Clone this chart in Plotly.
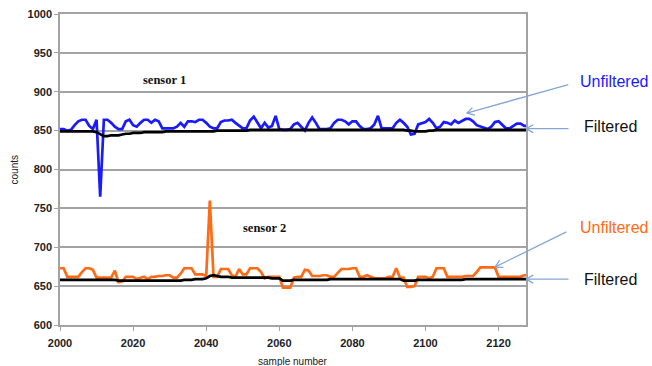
import math
import plotly.graph_objects as go

# sample numbers 2000 .. 2128
samples = list(range(2000, 2129))

sensor1_raw = [
    852, 852, 850, 851, 857, 862, 864, 864, 856, 852,   # 2000
    864, 765, 864, 864, 860, 855, 852, 852, 862, 864,   # 2010
    857, 855, 860, 864, 864, 860, 864, 862, 853, 853,   # 2020
    853, 853, 855, 860, 855, 862, 862, 861, 864, 864,   # 2030
    860, 855, 853, 853, 861, 863, 863, 864, 860, 857,   # 2040
    853, 853, 863, 868, 860, 853, 860, 854, 856, 869,   # 2050
    852, 851, 851, 852, 858, 860, 855, 850, 860, 867,   # 2060
    860, 852, 852, 852, 853, 860, 864, 864, 862, 858,   # 2070
    862, 862, 856, 852, 852, 853, 858, 869, 853, 853,   # 2080
    853, 853, 860, 864, 860, 855, 845, 846, 858, 860,   # 2090
    861, 865, 860, 853, 855, 861, 860, 858, 863, 860,   # 2100
    862, 865, 865, 862, 857, 855, 853, 852, 855, 861,   # 2110
    862, 858, 853, 853, 856, 859, 859, 856, 856,        # 2120
]

sensor1_filtered = [
    849, 849, 849, 849, 849, 849, 849, 849, 849, 849,
    848, 846, 843, 843, 844, 844, 844, 845, 846, 846,
    847, 847, 847, 848, 848, 848, 848, 848, 848, 849,
    849, 849, 849, 849, 849, 849, 849, 849, 849, 849,
    849, 849, 849, 850, 850, 850, 850, 850, 850, 850,
    850, 850, 851, 851, 851, 851, 851, 851, 851, 851,
    851, 851, 851, 851, 851, 851, 851, 851, 851, 851,
    851, 851, 851, 851, 851, 851, 851, 851, 851, 851,
    851, 851, 851, 851, 851, 851, 851, 851, 851, 851,
    851, 851, 851, 851, 851, 850, 850, 849, 849, 849,
    849, 850, 850, 851, 851, 851, 851, 851, 851, 851,
    851, 851, 851, 851, 851, 851, 851, 851, 851, 851,
    851, 851, 851, 851, 851, 851, 851, 851, 851,
]

sensor2_raw = [
    673, 673, 662, 662, 662, 662, 668, 673, 673, 671,
    661, 661, 661, 661, 661, 670, 655, 656, 662, 662,
    662, 659, 661, 662, 659, 662, 662, 663, 663, 664,
    664, 661, 661, 666, 673, 673, 673, 665, 665, 665,
    663, 760, 662, 662, 672, 672, 672, 664, 662, 672,
    665, 665, 673, 673, 673, 668, 660, 662, 662, 662,
    662, 648, 648, 648, 661, 662, 662, 671, 670, 663,
    663, 663, 664, 664, 662, 662, 667, 672, 672, 672,
    673, 673, 662, 662, 664, 662, 660, 660, 660, 660,
    662, 662, 673, 661, 661, 649, 649, 650, 662, 662,
    662, 660, 662, 673, 673, 673, 662, 662, 662, 662,
    662, 663, 663, 663, 668, 674, 674, 674, 674, 674,
    662, 662, 662, 662, 662, 662, 662, 664, 664,
]

sensor2_filtered = [
    658, 658, 658, 658, 658, 658, 658, 658, 658, 658,
    658, 658, 658, 658, 658, 658, 657, 657, 657, 657,
    657, 657, 657, 657, 657, 657, 657, 657, 657, 657,
    657, 657, 657, 657, 658, 658, 658, 659, 659, 659,
    660, 663, 664, 663, 662, 662, 662, 661, 661, 661,
    661, 661, 661, 661, 661, 661, 661, 661, 660, 660,
    660, 657, 657, 657, 658, 658, 658, 658, 658, 658,
    658, 658, 658, 658, 659, 659, 659, 659, 659, 659,
    659, 659, 659, 659, 659, 659, 659, 659, 659, 659,
    659, 659, 659, 659, 657, 657, 657, 657, 658, 658,
    658, 658, 658, 658, 658, 658, 658, 658, 658, 658,
    658, 659, 659, 659, 659, 659, 659, 659, 659, 659,
    659, 659, 659, 659, 659, 659, 659, 659, 659,
]

x_ticks = [2000, 2020, 2040, 2060, 2080, 2100, 2120]
y_ticks = [600, 650, 700, 750, 800, 850, 900, 950, 1000]

BLUE = "#1a1aff"
ORANGE = "#ff6a14"
ARROW = "#86a6d4"
GRID = "#a3a3a3"

fig = go.Figure()
for ys, col in [(sensor1_raw, BLUE), (sensor2_raw, ORANGE),
                (sensor1_filtered, "black"), (sensor2_filtered, "black")]:
    fig.add_trace(go.Scatter(x=samples, y=ys, mode="lines",
                             line=dict(color=col, width=2.7),
                             showlegend=False, hoverinfo="skip"))

annotations = []

# axis titles
annotations.append(dict(x=0.5, y=-0.1158, xref="paper", yref="paper",
                        text="sample number", showarrow=False,
                        xanchor="center", yanchor="middle",
                        font=dict(family="Liberation Sans", size=10, color="#222")))
annotations.append(dict(x=-0.0966, y=0.5, xref="paper", yref="paper",
                        text="counts", showarrow=False, textangle=-90,
                        xanchor="center", yanchor="middle",
                        font=dict(family="Liberation Sans", size=10, color="#222")))

# series names inside the plot
for txt, px, py in [("sensor 1", 0.2253, 0.7878), ("sensor 2", 0.4399, 0.3119)]:
    annotations.append(dict(x=px, y=py, xref="paper", yref="paper",
                            text=f"<b>{txt}</b>", showarrow=False,
                            xanchor="center", yanchor="middle",
                            font=dict(family="Liberation Serif", size=12.5,
                                      color="#111")))

# callout labels on the right
labels = [("Unfiltered", BLUE, 1.1116, 0.7814),
          ("Filtered", "#111", 1.1202, 0.6367),
          ("Unfiltered", ORANGE, 1.1116, 0.3119),
          ("Filtered", "#111", 1.1202, 0.1447)]
for txt, col, px, py in labels:
    annotations.append(dict(x=px, y=py, xref="paper", yref="paper", text=txt,
                            showarrow=False, xanchor="left", yanchor="middle",
                            font=dict(family="Liberation Sans", size=16, color=col)))

# arrows: head point, shaft offset (pixels) to the tail
arrows = [
    dict(x=2111.3, xref="x", y=872.5, ax=103, ay=-29),
    dict(x=1.0, xref="paper", y=852.5, ax=44, ay=0),
    dict(x=2119.0, xref="x", y=674.5, ax=73, ay=-36),
    dict(x=1.0, xref="paper", y=659.0, ax=44, ay=0),
]
for a in arrows:
    base = dict(x=a["x"], xref=a["xref"], y=a["y"], yref="y", text="",
                showarrow=True, arrowhead=0, arrowwidth=1.3, arrowcolor=ARROW,
                axref="pixel", ayref="pixel", standoff=0, startstandoff=0)
    annotations.append(dict(base, ax=a["ax"], ay=a["ay"]))
    ang = math.atan2(a["ay"], a["ax"])
    for d in (0.5, -0.5):
        annotations.append(dict(base, ax=10 * math.cos(ang + d),
                                ay=10 * math.sin(ang + d)))

fig.update_layout(
    width=652, height=366, autosize=False,
    margin=dict(l=60, r=126, t=14, b=41),
    paper_bgcolor="white", plot_bgcolor="white",
    annotations=annotations,
    font=dict(family="Liberation Sans", color="#222"),
    xaxis=dict(range=[2000, 2127.5], tickvals=x_ticks,
               ticktext=[f"<b>{v}</b>" for v in x_ticks],
               tickfont=dict(size=11, color="#222"),
               showgrid=False, zeroline=False, automargin=False,
               showline=True, linecolor=GRID, linewidth=1.5, mirror=True,
               ticks="outside", ticklen=4, tickcolor=GRID,
               ticklabelstandoff=3),
    yaxis=dict(range=[600, 1000], tickvals=y_ticks,
               ticktext=[f"<b>{v}</b>" for v in y_ticks],
               tickfont=dict(size=11, color="#222"),
               showgrid=True, gridcolor=GRID, gridwidth=1.5, zeroline=False,
               automargin=False,
               showline=True, linecolor=GRID, linewidth=1.5, mirror=True,
               ticks="outside", ticklen=4, tickcolor=GRID),
)

fig.write_html("out.html")
